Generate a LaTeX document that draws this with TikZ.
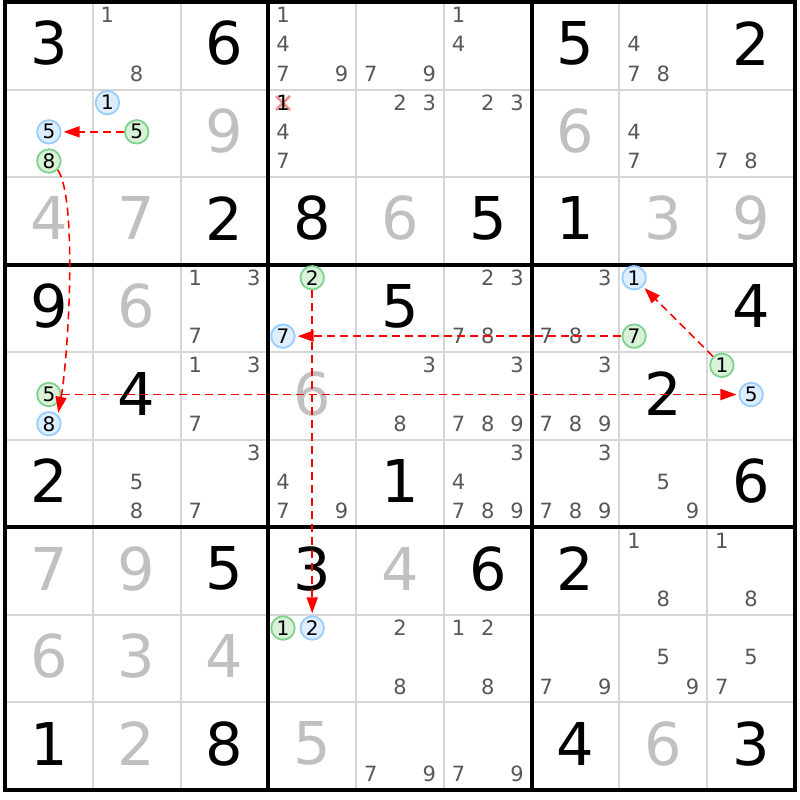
\documentclass[tikz,border=0pt]{standalone}
\usepackage{fontspec}
\setmainfont{DejaVu Sans}
\usetikzlibrary{arrows.meta}
\definecolor{candgray}{HTML}{585858}
\definecolor{solvgray}{HTML}{C0C0C0}
\definecolor{gridgray}{HTML}{D6D6D6}
\definecolor{bluefill}{HTML}{DDEEFF}
\definecolor{bluedraw}{HTML}{99CCFF}
\definecolor{greenfill}{HTML}{D8F2D8}
\definecolor{greendraw}{HTML}{80D090}
\definecolor{xred}{HTML}{F29090}
\tikzset{
  given/.style={font=\fontsize{59}{59}\selectfont, text=black, inner sep=0pt},
  solved/.style={given, text=solvgray},
  cand/.style={font=\fontsize{21}{21}\selectfont, text=candgray, inner sep=0pt},
  circ/.style={circle, minimum size=23.5pt, inner sep=0pt, line width=1.8pt, font=\fontsize{20}{20}\selectfont, text=black},
  bluec/.style={circ, draw=bluedraw, fill=bluefill},
  greenc/.style={circ, draw=greendraw, fill=greenfill},
  elim/.style={cand, text=black},
  thinline/.style={draw=gridgray, line width=2pt},
  thickline/.style={draw=black, line width=4pt},
  link/.style={draw=red, line width=1.6pt, dash pattern=on 8pt off 5pt, -{Triangle[length=16pt,width=11pt]}, shorten >=2pt},
}
\newcommand\sgDig[4]{\pgfmathsetmacro\sgx{5+(#3+0.5)*87.78}\pgfmathsetmacro\sgy{2+(#2+0.5)*87.56-2.5}\node[#1] (v#2#3) at (\sgx,\sgy) {#4};}
\newcommand\sgCirc[4]{\pgfmathsetmacro\sgx{5+#3*87.78+(mod(#4-1,3)+0.5)*29.26}\pgfmathsetmacro\sgy{2+#2*87.56+(int((#4-1)/3)+0.5)*29.19-1.5}\node[#1] (c#2#3#4) at (\sgx,\sgy) {#4};}
\newcommand\sgCands[3]{\foreach \d in {#3}{\sgCirc{cand}{#1}{#2}{\d}}}
\begin{document}
\begin{tikzpicture}[x=1pt,y=-1pt]
\useasboundingbox[fill=white] (0,0) rectangle (800,800);
% grid
\foreach \i in {1,2,4,5,7,8}{
  \draw[thinline] ({5+\i*87.78},2) -- ({5+\i*87.78},790);
  \draw[thinline] (5,{2+\i*87.56}) -- (795,{2+\i*87.56});
}
\foreach \i in {3,6}{
  \draw[thickline] ({5+\i*87.78},2) -- ({5+\i*87.78},790);
  \draw[thickline] (5,{2+\i*87.56}) -- (795,{2+\i*87.56});
}
\draw[thickline] (5,2) rectangle (795,790);
% row 0
\sgDig{given}{0}{0}{3} \sgCands{0}{1}{1,8} \sgDig{given}{0}{2}{6}
\sgCands{0}{3}{1,4,7,9} \sgCands{0}{4}{7,9} \sgCands{0}{5}{1,4}
\sgDig{given}{0}{6}{5} \sgCands{0}{7}{4,7,8} \sgDig{given}{0}{8}{2}
% row 1
\sgCirc{bluec}{1}{0}{5} \sgCirc{greenc}{1}{0}{8}
\sgCirc{bluec}{1}{1}{1} \sgCirc{greenc}{1}{1}{5}
\sgDig{solved}{1}{2}{9}
\draw[xred, line width=2.5pt] (276,96) -- (290,110) (276,110) -- (290,96);
\sgCirc{elim}{1}{3}{1} \sgCands{1}{3}{4,7}
\sgCands{1}{4}{2,3} \sgCands{1}{5}{2,3}
\sgDig{solved}{1}{6}{6} \sgCands{1}{7}{4,7} \sgCands{1}{8}{7,8}
% row 2
\sgDig{solved}{2}{0}{4} \sgDig{solved}{2}{1}{7} \sgDig{given}{2}{2}{2}
\sgDig{given}{2}{3}{8} \sgDig{solved}{2}{4}{6} \sgDig{given}{2}{5}{5}
\sgDig{given}{2}{6}{1} \sgDig{solved}{2}{7}{3} \sgDig{solved}{2}{8}{9}
% row 3
\sgDig{given}{3}{0}{9} \sgDig{solved}{3}{1}{6} \sgCands{3}{2}{1,3,7}
\sgCirc{greenc}{3}{3}{2} \sgCirc{bluec}{3}{3}{7}
\sgDig{given}{3}{4}{5} \sgCands{3}{5}{2,3,7,8} \sgCands{3}{6}{3,7,8}
\sgCirc{bluec}{3}{7}{1} \sgCirc{greenc}{3}{7}{7}
\sgDig{given}{3}{8}{4}
% row 4
\sgCirc{greenc}{4}{0}{5} \sgCirc{bluec}{4}{0}{8}
\sgDig{given}{4}{1}{4} \sgCands{4}{2}{1,3,7} \sgDig{solved}{4}{3}{6}
\sgCands{4}{4}{3,8} \sgCands{4}{5}{3,7,8,9} \sgCands{4}{6}{3,7,8,9}
\sgDig{given}{4}{7}{2}
\sgCirc{greenc}{4}{8}{1} \sgCirc{bluec}{4}{8}{5}
% row 5
\sgDig{given}{5}{0}{2} \sgCands{5}{1}{5,8} \sgCands{5}{2}{3,7}
\sgCands{5}{3}{4,7,9} \sgDig{given}{5}{4}{1} \sgCands{5}{5}{3,4,7,8,9}
\sgCands{5}{6}{3,7,8,9} \sgCands{5}{7}{5,9} \sgDig{given}{5}{8}{6}
% row 6
\sgDig{solved}{6}{0}{7} \sgDig{solved}{6}{1}{9} \sgDig{given}{6}{2}{5}
\sgDig{given}{6}{3}{3} \sgDig{solved}{6}{4}{4} \sgDig{given}{6}{5}{6}
\sgDig{given}{6}{6}{2} \sgCands{6}{7}{1,8} \sgCands{6}{8}{1,8}
% row 7
\sgDig{solved}{7}{0}{6} \sgDig{solved}{7}{1}{3} \sgDig{solved}{7}{2}{4}
\sgCirc{greenc}{7}{3}{1} \sgCirc{bluec}{7}{3}{2}
\sgCands{7}{4}{2,8} \sgCands{7}{5}{1,2,8} \sgCands{7}{6}{7,9}
\sgCands{7}{7}{5,9} \sgCands{7}{8}{5,7}
% row 8
\sgDig{given}{8}{0}{1} \sgDig{solved}{8}{1}{2} \sgDig{given}{8}{2}{8}
\sgDig{solved}{8}{3}{5} \sgCands{8}{4}{7,9} \sgCands{8}{5}{7,9}
\sgDig{given}{8}{6}{4} \sgDig{solved}{8}{7}{6} \sgDig{given}{8}{8}{3}
% links
\draw[link] (c115) -- (c105);
\draw[link] (c108.-45) .. controls (78,200) and (68,360) .. (c408.45);
\draw[link] (c405) -- (c485);
\draw[link] (c377) -- (c337);
\draw[link] (c332) -- (c732);
\draw[link] (c481) -- (c371);
\end{tikzpicture}
\end{document}
